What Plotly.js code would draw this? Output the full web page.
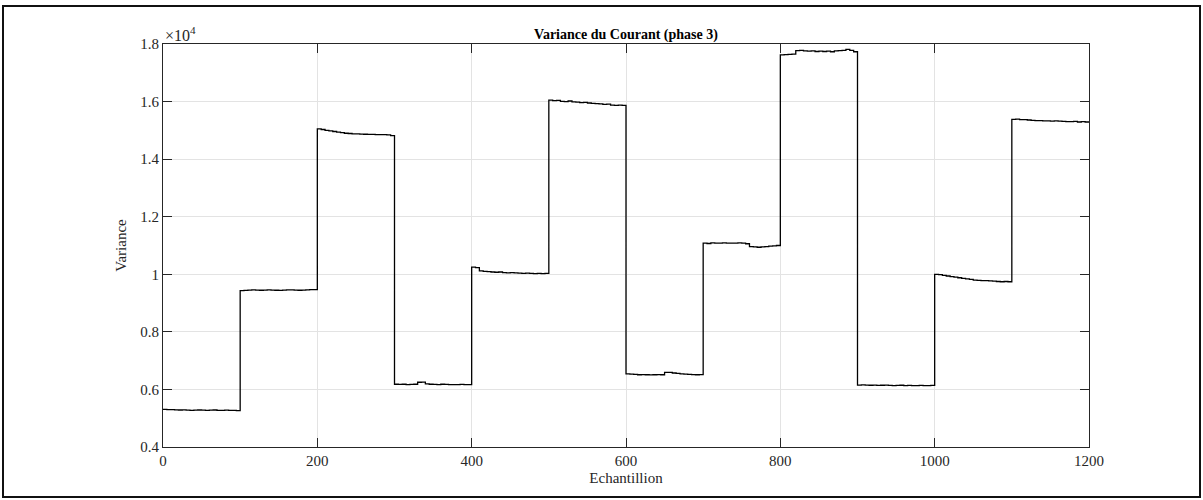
<!DOCTYPE html>
<html>
<head>
<meta charset="utf-8">
<script src="https://cdn.plot.ly/plotly-3.0.1.min.js"></script>
<style>
  html, body { margin: 0; padding: 0; background: #fff; }
  #chart { width: 1203px; height: 500px; }
  #frame { position: absolute; left: 2px; top: 5px; width: 1195px; height: 489px;
           border: 2px solid #111; pointer-events: none; }
</style>
</head>
<body>
<div id="chart"></div>
<div id="frame"></div>
<script>
// Variance of phase-3 current, one block of 20 readings per 100-sample segment (every 5 samples)
const seg0  = [5310,5300,5295,5290,5285,5290,5280,5275,5280,5285,5280,5275,5280,5285,5275,5270,5280,5275,5270,5265];
const seg1  = [9430,9440,9450,9455,9450,9445,9450,9455,9450,9445,9440,9450,9455,9460,9450,9445,9450,9460,9465,9470];
const seg2  = [15050,15030,15000,14980,14960,14940,14920,14900,14890,14880,14880,14870,14865,14860,14860,14855,14850,14850,14840,14820];
const seg3  = [6180,6175,6180,6170,6175,6180,6250,6255,6190,6180,6175,6170,6180,6175,6170,6165,6170,6175,6170,6165];
const seg4  = [10250,10230,10120,10100,10090,10080,10070,10080,10060,10050,10060,10050,10040,10030,10040,10030,10020,10030,10025,10030];
const seg5  = [16050,16030,16040,16010,16000,16020,15990,15980,15960,15970,15950,15940,15930,15920,15900,15910,15880,15870,15880,15870];
const seg6  = [6540,6530,6520,6510,6515,6510,6505,6510,6515,6510,6590,6595,6570,6560,6540,6530,6520,6515,6510,6515];
const seg7  = [11080,11070,11090,11085,11080,11090,11085,11080,11085,11090,11080,11060,10960,10950,10940,10950,10960,10980,10990,11000];
const seg8  = [17620,17630,17640,17650,17770,17780,17760,17750,17760,17740,17750,17740,17750,17730,17760,17770,17780,17810,17780,17730];
const seg9  = [6150,6155,6150,6145,6150,6140,6145,6150,6140,6135,6140,6145,6135,6140,6130,6135,6140,6130,6135,6140];
const seg10 = [10000,9990,9960,9940,9920,9900,9880,9860,9840,9820,9800,9790,9780,9780,9770,9760,9750,9740,9750,9740];
const seg11 = [15380,15390,15370,15370,15360,15350,15340,15340,15330,15330,15320,15330,15320,15310,15300,15300,15310,15290,15300,15290];

const segments = [seg0, seg1, seg2, seg3, seg4, seg5, seg6, seg7, seg8, seg9, seg10, seg11];
const SAMPLES_PER_SEGMENT = 100;
const STEP = 5;

const xTicks = [0, 200, 400, 600, 800, 1000, 1200];
const yTicks = [4000, 6000, 8000, 10000, 12000, 14000, 16000, 18000];
const yTickText = ['0.4', '0.6', '0.8', '1', '1.2', '1.4', '1.6', '1.8'];

// sample index for every reading
const xs = [], ys = [];
segments.forEach((seg, k) => {
  seg.forEach((v, j) => {
    xs.push(k * SAMPLES_PER_SEGMENT + j * STEP);
    ys.push(v);
  });
});
xs.push(segments.length * SAMPLES_PER_SEGMENT);
ys.push(seg11[seg11.length - 1]);

const serif = '"Liberation Serif", "Times New Roman", Times, serif';
const axisCommon = {
  showline: true, linecolor: '#262626', linewidth: 1, mirror: 'ticks',
  ticks: 'inside', ticklen: 9, tickwidth: 1, tickcolor: '#262626',
  showgrid: true, gridcolor: '#e3e3e3', gridwidth: 1, zeroline: false,
  tickfont: { family: serif, size: 15, color: '#262626' }
};

const trace = {
  x: xs, y: ys, type: 'scatter', mode: 'lines',
  line: { color: '#000', width: 1.3, shape: 'hv' },
  hoverinfo: 'skip'
};

const layout = {
  width: 1203, height: 500,
  margin: { l: 163, r: 114, t: 44, b: 53, pad: 0 },
  paper_bgcolor: '#fff', plot_bgcolor: '#fff',
  showlegend: false,
  title: {
    text: '<b>Variance du Courant (phase 3)</b>',
    font: { family: serif, size: 14, color: '#000' },
    x: 0.5, xref: 'paper', xanchor: 'center',
    y: 1, yref: 'paper', yanchor: 'bottom', pad: { b: 5 }
  },
  xaxis: Object.assign({}, axisCommon, {
    range: [0, 1200], tickvals: xTicks, ticktext: xTicks.map(String),
    title: { text: 'Echantillion', font: { family: serif, size: 15, color: '#262626' }, standoff: 4 }
  }),
  yaxis: Object.assign({}, axisCommon, {
    range: [4000, 18000], tickvals: yTicks, ticktext: yTickText,
    title: { text: 'Variance', font: { family: serif, size: 15, color: '#262626' }, standoff: 10 }
  }),
  annotations: [{
    text: '×10<sup>4</sup>', xref: 'paper', yref: 'paper', x: 0, y: 1,
    xanchor: 'left', yanchor: 'bottom', showarrow: false, yshift: -2,
    font: { family: serif, size: 16, color: '#262626' }
  }]
};

Plotly.newPlot('chart', [trace], layout, { displayModeBar: false, staticPlot: true });
</script>
</body>
</html>
